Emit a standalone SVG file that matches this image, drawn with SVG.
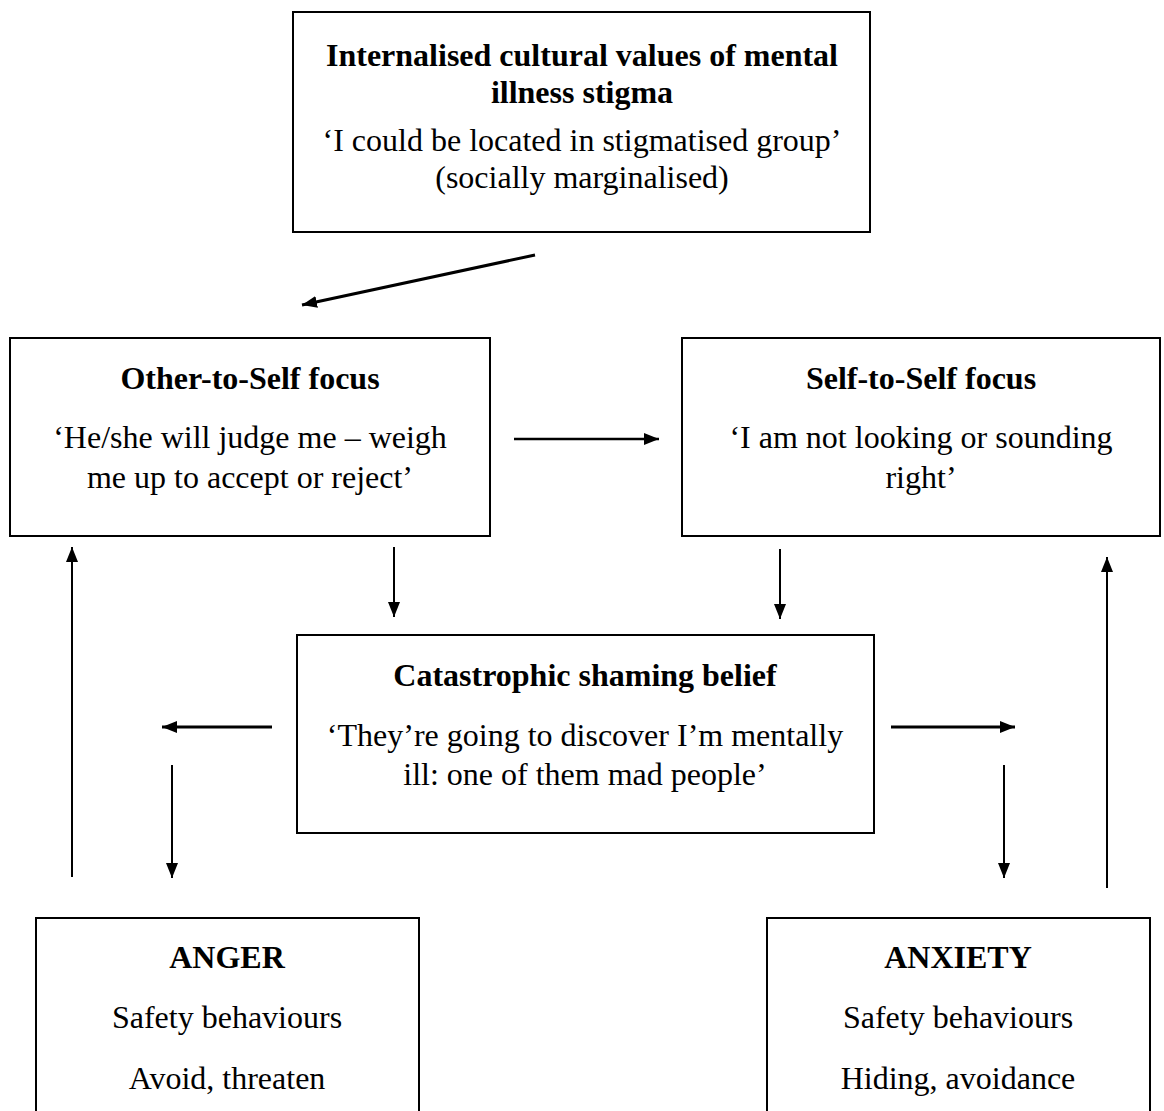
<svg xmlns="http://www.w3.org/2000/svg" width="1164" height="1111" viewBox="0 0 1164 1111">
<style>
.box{fill:#fff;stroke:#000;stroke-width:2}
.t{font-family:"Liberation Serif","Times New Roman",serif;font-size:32px;fill:#000;text-anchor:middle}
.b{font-weight:bold}
.c{fill:none;stroke:#000;stroke-width:2}
.m{fill:none;stroke:#000;stroke-width:2.5}
.d{fill:none;stroke:#000;stroke-width:3}
</style>
<defs>
<marker id="ah" markerUnits="userSpaceOnUse" markerWidth="16" markerHeight="14" refX="15" refY="7" orient="auto">
<path d="M0,1 L15,7 L0,13 Z" fill="#000"/>
</marker>
</defs>
<rect width="1164" height="1111" fill="#fff"/>
<g id="connectors">
<line class="d" x1="535" y1="255" x2="302" y2="305" marker-end="url(#ah)"/>
<line class="m" x1="514" y1="439" x2="659" y2="439" marker-end="url(#ah)"/>
<line class="c" x1="394" y1="547" x2="394" y2="617" marker-end="url(#ah)"/>
<line class="c" x1="780" y1="549" x2="780" y2="619" marker-end="url(#ah)"/>
<line class="c" x1="72" y1="877" x2="72" y2="547" marker-end="url(#ah)"/>
<line class="c" x1="1107" y1="888" x2="1107" y2="557" marker-end="url(#ah)"/>
<line class="d" x1="272" y1="727" x2="162" y2="727" marker-end="url(#ah)"/>
<line class="d" x1="891" y1="727" x2="1015" y2="727" marker-end="url(#ah)"/>
<line class="c" x1="172" y1="765" x2="172" y2="878" marker-end="url(#ah)"/>
<line class="c" x1="1004" y1="765" x2="1004" y2="878" marker-end="url(#ah)"/>
</g>
<g id="node-stigma">
<rect class="box" x="293" y="12" width="577" height="220"/>
<text class="t b" x="582" y="66">Internalised cultural values of mental</text>
<text class="t b" x="582" y="103">illness stigma</text>
<text class="t" x="582" y="151">‘I could be located in stigmatised group’</text>
<text class="t" x="582" y="188">(socially marginalised)</text>
</g>
<g id="node-other">
<rect class="box" x="10" y="338" width="480" height="198"/>
<text class="t b" x="250" y="389">Other-to-Self focus</text>
<text class="t" x="250" y="448">‘He/she will judge me – weigh</text>
<text class="t" x="250" y="488">me up to accept or reject’</text>
</g>
<g id="node-self">
<rect class="box" x="682" y="338" width="478" height="198"/>
<text class="t b" x="921" y="389">Self-to-Self focus</text>
<text class="t" x="921" y="448">‘I am not looking or sounding</text>
<text class="t" x="921" y="488">right’</text>
</g>
<g id="node-catastrophic">
<rect class="box" x="297" y="635" width="577" height="198"/>
<text class="t b" x="585" y="686">Catastrophic shaming belief</text>
<text class="t" x="585" y="746">‘They’re going to discover I’m mentally</text>
<text class="t" x="585" y="785">ill: one of them mad people’</text>
</g>
<g id="node-anger">
<rect class="box" x="36" y="918" width="383" height="220"/>
<text class="t b" x="227" y="968">ANGER</text>
<text class="t" x="227" y="1028">Safety behaviours</text>
<text class="t" x="227" y="1089">Avoid, threaten</text>
</g>
<g id="node-anxiety">
<rect class="box" x="767" y="918" width="383" height="220"/>
<text class="t b" x="958" y="968">ANXIETY</text>
<text class="t" x="958" y="1028">Safety behaviours</text>
<text class="t" x="958" y="1089">Hiding, avoidance</text>
</g>
</svg>
